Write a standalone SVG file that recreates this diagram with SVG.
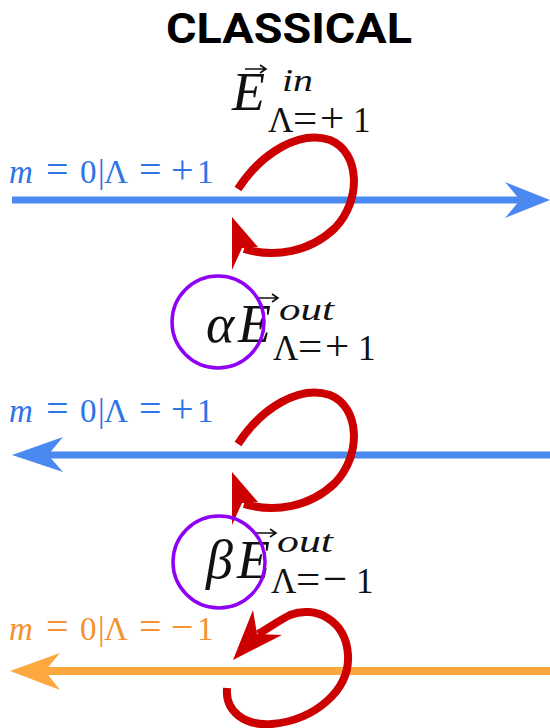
<svg xmlns="http://www.w3.org/2000/svg" width="550" height="728" viewBox="0 0 550 728">
<style>
.title{font-family:Roboto,"Liberation Sans",sans-serif;font-weight:bold;font-size:42px;fill:#000}
.math{font-family:"Liberation Serif","DejaVu Serif",serif;fill:#111;font-weight:normal}
.it{font-style:italic}
.big{font-size:54px}
.sup{font-size:32px}
.sub{font-size:35px}
.op{font-size:43px}
.lbl{font-family:"Liberation Serif","DejaVu Serif",serif;font-size:33px;font-weight:normal}
.lop{font-size:40px}
.lm{font-size:33px;font-style:italic}
.blueT{fill:#2d74e6}
.orT{fill:#f29233}
.blueL{stroke:#4a89f0;stroke-width:7;fill:none}
.orL{stroke:#fca83f;stroke-width:8;fill:none}
.loop{stroke:#cc0000;stroke-width:8;fill:none}
.head{fill:#cc0000}
.ring{stroke:#8f00f5;stroke-width:3.5;fill:none}
.vec{stroke:#111;stroke-width:1.6;fill:none}
</style>

<g id="title"><text class="title" x="289" y="43" text-anchor="middle" textLength="246" lengthAdjust="spacingAndGlyphs">CLASSICAL</text></g>

<g id="label-in">
<text class="math it big" x="232" y="110">E</text>
<path class="vec" d="M245,69 H265 M260,65 L266,69 L260,73"/>
<text class="math it sup" x="282" y="91" textLength="31" lengthAdjust="spacingAndGlyphs">in</text>
<text class="math sub" y="132"><tspan x="268">Λ</tspan><tspan class="op" x="293">=</tspan><tspan class="op" x="320">+</tspan><tspan x="353">1</tspan></text>
</g>

<g id="label-alpha">
<text class="math it big" x="206" y="342">α</text>
<text class="math it big" x="238" y="342">E</text>
<path class="vec" d="M258,298 H277 M272,294 L278,298 L272,302"/>
<text class="math it sup" x="279" y="320" textLength="55" lengthAdjust="spacingAndGlyphs">out</text>
<text class="math sub" y="360"><tspan x="273">Λ</tspan><tspan class="op" x="298">=</tspan><tspan class="op" x="325">+</tspan><tspan x="358">1</tspan></text>
</g>

<g id="label-beta">
<text class="math it big" x="206" y="578">β</text>
<text class="math it big" x="237" y="578">E</text>
<path class="vec" d="M256,533 H275 M270,529 L276,533 L270,537"/>
<text class="math it sup" x="277" y="552" textLength="56" lengthAdjust="spacingAndGlyphs">out</text>
<text class="math sub" y="593"><tspan x="271">Λ</tspan><tspan class="op" x="296">=</tspan><tspan class="op" x="323">−</tspan><tspan x="356">1</tspan></text>
</g>

<g id="mode1">
<text class="lbl blueT" y="183"><tspan class="lm" x="9">m</tspan><tspan class="lop" x="46">=</tspan><tspan x="80">0</tspan><tspan x="98">|</tspan><tspan x="104">Λ</tspan><tspan class="lop" x="139">=</tspan><tspan class="lop" x="171">+</tspan><tspan x="197">1</tspan></text>
</g>
<g id="mode2">
<text class="lbl blueT" y="422"><tspan class="lm" x="9">m</tspan><tspan class="lop" x="46">=</tspan><tspan x="80">0</tspan><tspan x="98">|</tspan><tspan x="104">Λ</tspan><tspan class="lop" x="139">=</tspan><tspan class="lop" x="171">+</tspan><tspan x="197">1</tspan></text>
</g>
<g id="mode3">
<text class="lbl orT" y="640"><tspan class="lm" x="9">m</tspan><tspan class="lop" x="46">=</tspan><tspan x="80">0</tspan><tspan x="98">|</tspan><tspan x="104">Λ</tspan><tspan class="lop" x="139">=</tspan><tspan class="lop" x="171">−</tspan><tspan x="197">1</tspan></text>
</g>

<g id="connectors">
<line class="blueL" x1="12" y1="200" x2="521" y2="200"/>
<polygon fill="#4a89f0" points="505,182 550,200 505,218 520,200"/>
<line class="blueL" x1="47" y1="455" x2="550" y2="455"/>
<polygon fill="#4a89f0" points="63,437 12,455 63,472 48,455"/>
<line class="orL" x1="44" y1="671" x2="550" y2="671"/>
<polygon fill="#fca83f" points="60,653 10,671 60,690 45,671"/>

<path class="loop" d="M238,189 C262,152 300,130 330,140 C360,152 362,200 335,228 C310,252 275,258 244,249"/>
<polygon class="head" points="232,217 258,247 242,248 232,270"/>

<g transform="translate(0,255)">
<path class="loop" d="M238,189 C262,152 300,130 330,140 C360,152 362,200 335,228 C310,252 275,258 244,249"/>
<polygon class="head" points="232,217 258,247 242,248 232,270"/>
</g>

<path class="loop" d="M227,688 C225,712 245,726 272,724 C315,720 350,690 348,655 C346,620 315,605 290,615 C280,620 270,627 258,634"/>
<polygon class="head" points="233,660 253,610 257,634 282,635"/>
</g>

<g id="circle-alpha"><circle class="ring" cx="218" cy="322" r="46"/></g>
<g id="circle-beta"><circle class="ring" cx="219" cy="562" r="46"/></g>
</svg>
